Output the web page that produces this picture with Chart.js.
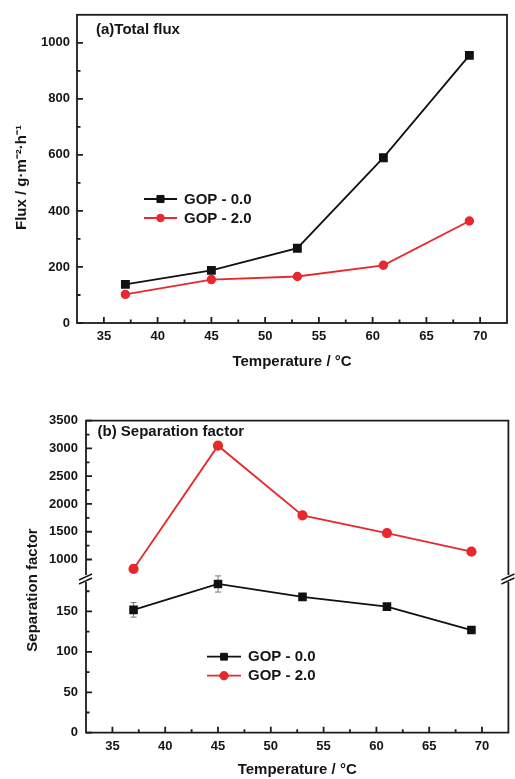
<!DOCTYPE html>
<html><head><meta charset="utf-8">
<script src="https://cdn.jsdelivr.net/npm/chart.js@4.4.1/dist/chart.umd.min.js"></script>
<style>
html,body{margin:0;padding:0;background:#fff;}
#wrap{position:relative;width:515px;height:779px;overflow:hidden;background:#fff;}
canvas{position:absolute;left:0;}
</style></head><body>
<div id="wrap">
<canvas id="ca" width="515" height="385" style="top:0"></canvas>
<canvas id="cb" width="515" height="394" style="top:385px"></canvas>
</div>
<script>
// ---- data ----
const temperatures = [37, 45, 53, 61, 69];
const fluxGOP00 = [138, 188, 267, 590, 955];
const fluxGOP20 = [102, 155, 166, 206, 364];
const sepGOP00 = [152, 184, 168, 156, 127];
const sepGOP00Err = [9, 10, 3, 3, 2];
const sepGOP20 = [830, 3050, 1795, 1475, 1140];
const seriesLabels = ['GOP - 0.0', 'GOP - 2.0'];
const xTickValues = [35, 40, 45, 50, 55, 60, 65, 70];
const fluxTickValues = [0, 200, 400, 600, 800, 1000];
const sepUpperTickValues = [1000, 1500, 2000, 2500, 3000, 3500];
const sepLowerTickValues = [0, 50, 100, 150];
const titleA = '(a)Total flux';
const titleB = '(b) Separation factor';
const xTitle = 'Temperature / °C';
const yTitleA = 'Flux / g·m⁻²·h⁻¹';
const yTitleB = 'Separation factor';

// ---- style ----
const FONT = "'Liberation Sans', Arial, sans-serif";
const BLACK = '#111111', RED = '#e8282c', AXIS = '#1c1c1c', TXT = '#151515';
const LW = 1.8;

function pts(ys) { return temperatures.map((t, i) => ({x: t, y: ys[i]})); }

function drawTicksX(ctx, s, majors, yAx) {
  const step = majors[1] - majors[0];
  ctx.beginPath();
  majors.forEach(v => { const p = s.getPixelForValue(v); ctx.moveTo(p, yAx); ctx.lineTo(p, yAx - 6); });
  for (let v = majors[0] - step / 2; v <= majors[majors.length - 1] + step / 2; v += step) {
    const p = s.getPixelForValue(v);
    if (p > s.left + 4 && p < s.right - 4) { ctx.moveTo(p, yAx); ctx.lineTo(p, yAx - 3.5); }
  }
  ctx.stroke();
}
function drawTicksY(ctx, s, majors, xAx) {
  const step = majors[1] - majors[0];
  ctx.beginPath();
  majors.forEach(v => { const p = s.getPixelForValue(v); ctx.moveTo(xAx, p); ctx.lineTo(xAx + 6, p); });
  for (let v = majors[0] - step / 2; v <= majors[majors.length - 1] + step / 2; v += step) {
    const p = s.getPixelForValue(v);
    if (p > s.top + 4 && p < s.bottom - 4) { ctx.moveTo(xAx, p); ctx.lineTo(xAx + 3.5, p); }
  }
  ctx.stroke();
}
function drawMarker(ctx, style, r, x, y, color) {
  ctx.fillStyle = color; ctx.strokeStyle = color; ctx.lineWidth = 1;
  ctx.beginPath();
  if (style === 'rect') { const h = r * Math.SQRT1_2; ctx.rect(x - h, y - h, 2 * h, 2 * h); }
  else ctx.arc(x, y, r, 0, Math.PI * 2);
  ctx.fill(); ctx.stroke();
}
function drawLegend(chart, x0, y0, len, dy) {
  const ctx = chart.ctx;
  ctx.save();
  chart.data.datasets.forEach((ds, i) => {
    const y = y0 + i * dy;
    ctx.strokeStyle = ds.borderColor; ctx.lineWidth = ds.borderWidth;
    ctx.beginPath(); ctx.moveTo(x0, y); ctx.lineTo(x0 + len, y); ctx.stroke();
    drawMarker(ctx, ds.pointStyle, ds.pointRadius, x0 + len / 2, y, ds.borderColor);
    ctx.fillStyle = TXT; ctx.font = `bold 15px ${FONT}`;
    ctx.textAlign = 'left'; ctx.textBaseline = 'middle';
    ctx.fillText(ds.label, x0 + len + 7, y + 0.5);
  });
  ctx.restore();
}
function rotText(ctx, text, cx, cy) {
  ctx.save();
  ctx.fillStyle = TXT; ctx.font = `bold 15px ${FONT}`;
  ctx.textAlign = 'center'; ctx.textBaseline = 'middle';
  ctx.translate(cx, cy); ctx.rotate(-Math.PI / 2); ctx.fillText(text, 0, 0);
  ctx.restore();
}
const tickFont = {family: FONT, size: 13, weight: 'bold'};
const titleFont = {family: FONT, size: 15, weight: 'bold'};
function fixedTicks(values) { return s => { s.ticks = values.map(v => ({value: v})); }; }

// ---- chart A ----
const decorA = {
  id: 'decorA',
  afterDraw(chart) {
    const {ctx, chartArea: a, scales: {x, y}} = chart;
    ctx.save();
    ctx.strokeStyle = AXIS; ctx.lineWidth = LW;
    ctx.strokeRect(a.left, a.top, a.right - a.left, a.bottom - a.top);
    drawTicksX(ctx, x, xTickValues, a.bottom);
    drawTicksY(ctx, y, fluxTickValues, a.left);
    ctx.fillStyle = TXT; ctx.font = `bold 15px ${FONT}`;
    ctx.textAlign = 'left'; ctx.textBaseline = 'middle';
    ctx.fillText(titleA, 96, 30);
    ctx.restore();
    rotText(ctx, yTitleA, 21.5, 177.5);
    drawLegend(chart, 144, 199, 33, 19);
  }
};

new Chart(document.getElementById('ca'), {
  type: 'line',
  data: {datasets: [
    {label: seriesLabels[0], data: pts(fluxGOP00), borderColor: BLACK, backgroundColor: BLACK,
     borderWidth: LW, pointStyle: 'rect', pointRadius: 5, pointBackgroundColor: BLACK, pointBorderColor: BLACK},
    {label: seriesLabels[1], data: pts(fluxGOP20), borderColor: RED, backgroundColor: RED,
     borderWidth: LW, pointStyle: 'circle', pointRadius: 3.8, pointBackgroundColor: RED, pointBorderColor: RED}
  ]},
  options: {
    responsive: false, animation: false, devicePixelRatio: 1,
    layout: {padding: {left: 0, right: 8, top: 10, bottom: 0}},
    plugins: {legend: {display: false}, tooltip: {enabled: false}},
    scales: {
      x: {type: 'linear', min: 32.5, max: 72.5,
          grid: {display: false, drawTicks: false}, border: {display: false},
          afterBuildTicks: fixedTicks(xTickValues),
          afterFit: s => { s.height = 62; },
          ticks: {font: tickFont, color: TXT, padding: 5.5, maxRotation: 0, autoSkip: false, callback: v => String(v)},
          title: {display: true, text: xTitle, font: titleFont, color: TXT, padding: {top: 0, bottom: 14}}},
      y: {type: 'linear', min: 0, max: 1100,
          grid: {display: false, drawTicks: false}, border: {display: false},
          afterBuildTicks: fixedTicks(fluxTickValues),
          afterFit: s => { s.width = 77; },
          ticks: {font: tickFont, color: TXT, padding: 7, autoSkip: false, callback: v => String(v)}}
    }
  },
  plugins: [decorA]
});

// ---- chart B ----
const decorB = {
  id: 'decorB',
  beforeDatasetsDraw(chart) {
    const {ctx, scales: {x, yL}} = chart;
    ctx.save();
    ctx.strokeStyle = '#777'; ctx.lineWidth = 1;
    ctx.beginPath();
    temperatures.forEach((t, i) => {
      const px = x.getPixelForValue(t);
      const p1 = yL.getPixelForValue(sepGOP00[i] + sepGOP00Err[i]);
      const p2 = yL.getPixelForValue(sepGOP00[i] - sepGOP00Err[i]);
      ctx.moveTo(px, p1); ctx.lineTo(px, p2);
      ctx.moveTo(px - 3, p1); ctx.lineTo(px + 3, p1);
      ctx.moveTo(px - 3, p2); ctx.lineTo(px + 3, p2);
    });
    ctx.stroke();
    ctx.restore();
  },
  afterDraw(chart) {
    const {ctx, chartArea: a, scales: {x, yU, yL}} = chart;
    const gy = (yU.bottom + yL.top) / 2 + 1.8;
    ctx.save();
    ctx.strokeStyle = AXIS; ctx.lineWidth = LW;
    ctx.beginPath();
    ctx.moveTo(a.left, gy - 3.5); ctx.lineTo(a.left, a.top); ctx.lineTo(a.right, a.top); ctx.lineTo(a.right, gy - 3.5);
    ctx.moveTo(a.left, gy + 3.5); ctx.lineTo(a.left, a.bottom); ctx.lineTo(a.right, a.bottom); ctx.lineTo(a.right, gy + 3.5);
    ctx.stroke();
    // break marks
    ctx.lineWidth = 1.5;
    ctx.beginPath();
    [a.left, a.right].forEach(ax => {
      ctx.moveTo(ax - 7, gy + 1.5); ctx.lineTo(ax + 6, gy - 4.5);
      ctx.moveTo(ax - 7, gy + 5.5); ctx.lineTo(ax + 6, gy - 0.5);
    });
    ctx.stroke();
    ctx.lineWidth = LW;
    drawTicksX(ctx, x, xTickValues, a.bottom);
    drawTicksY(ctx, yU, sepUpperTickValues, a.left);
    drawTicksY(ctx, yL, sepLowerTickValues, a.left);
    ctx.fillStyle = TXT; ctx.font = `bold 15px ${FONT}`;
    ctx.textAlign = 'left'; ctx.textBaseline = 'middle';
    ctx.fillText(titleB, 97.5, 47.3);
    ctx.restore();
    rotText(ctx, yTitleB, 32.5, 205);
    drawLegend(chart, 207, 271.7, 34, 19);
  }
};

new Chart(document.getElementById('cb'), {
  type: 'line',
  data: {datasets: [
    {label: seriesLabels[0], data: pts(sepGOP00), yAxisID: 'yL', borderColor: BLACK, backgroundColor: BLACK,
     borderWidth: LW, pointStyle: 'rect', pointRadius: 4.8, pointBackgroundColor: BLACK, pointBorderColor: BLACK},
    {label: seriesLabels[1], data: pts(sepGOP20), yAxisID: 'yU', borderColor: RED, backgroundColor: RED,
     borderWidth: LW, pointStyle: 'circle', pointRadius: 4.2, pointBackgroundColor: RED, pointBorderColor: RED}
  ]},
  options: {
    responsive: false, animation: false, devicePixelRatio: 1,
    layout: {padding: {left: 0, right: 2, top: 35.7, bottom: 0}},
    plugins: {legend: {display: false}, tooltip: {enabled: false}},
    scales: {
      x: {type: 'linear', min: 32.5, max: 72.5,
          grid: {display: false, drawTicks: false}, border: {display: false},
          afterBuildTicks: fixedTicks(xTickValues),
          afterFit: s => { s.height = 46.3; },
          ticks: {font: tickFont, color: TXT, padding: 5.5, maxRotation: 0, autoSkip: false, callback: v => String(v)},
          title: {display: true, text: xTitle, font: titleFont, color: TXT, padding: {top: 0, bottom: 0}}},
      yU: {type: 'linear', position: 'left', stack: 'sep', stackWeight: 1, weight: 2, min: 690, max: 3500,
          grid: {display: false, drawTicks: false}, border: {display: false},
          afterBuildTicks: fixedTicks(sepUpperTickValues),
          afterFit: s => { s.width = 86; },
          ticks: {font: tickFont, color: TXT, padding: 8, autoSkip: false, callback: v => String(v)}},
      yL: {type: 'linear', position: 'left', stack: 'sep', stackWeight: 1, weight: 1, min: 0, max: 193,
          grid: {display: false, drawTicks: false}, border: {display: false},
          afterBuildTicks: fixedTicks(sepLowerTickValues),
          afterFit: s => { s.width = 86; },
          ticks: {font: tickFont, color: TXT, padding: 8, autoSkip: false, callback: v => String(v)}}
    }
  },
  plugins: [decorB]
});
</script>
</body></html>
